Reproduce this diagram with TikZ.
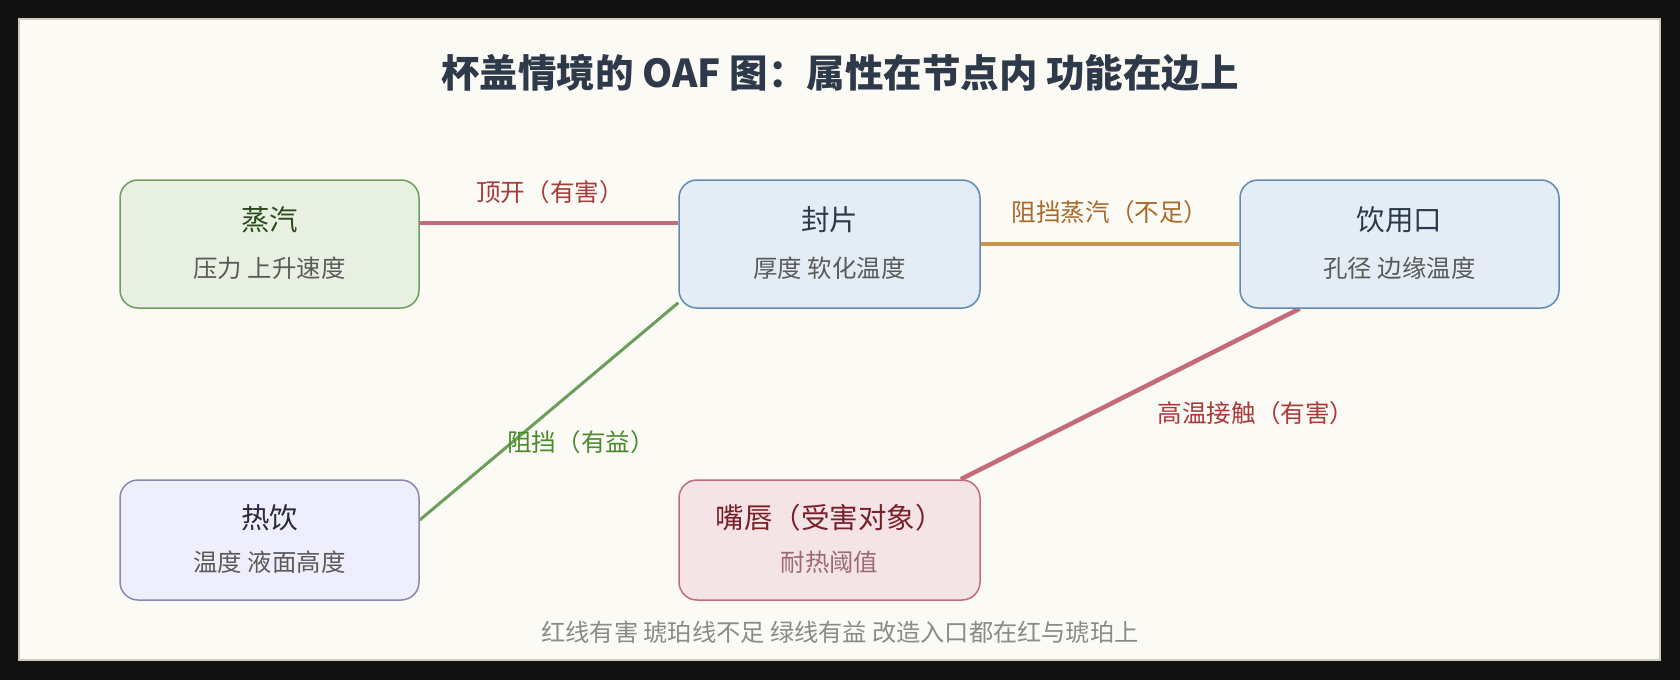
\documentclass[tikz,border=0pt]{standalone}
\usepackage{fontspec}
\setmainfont{Noto Sans CJK SC}
\usetikzlibrary{backgrounds}
\pgfdeclarelayer{edges}
\pgfsetlayers{background,edges,main}
\definecolor{framebg}{HTML}{111111}
\definecolor{panelbg}{HTML}{FBFAF5}
\definecolor{panelborder}{HTML}{CFCBBB}
\definecolor{titlec}{HTML}{2E3A4A}
\definecolor{gfill}{HTML}{E8F0E2}\definecolor{gdraw}{HTML}{6E9E5E}\definecolor{gtext}{HTML}{2E4A1E}
\definecolor{bfill}{HTML}{E4EDF5}\definecolor{bdraw}{HTML}{5F8AB3}\definecolor{btext}{HTML}{2A3A4C}
\definecolor{pfill}{HTML}{EFEEFC}\definecolor{pdraw}{HTML}{8A88B0}\definecolor{ptext}{HTML}{2A2840}
\definecolor{rfill}{HTML}{F5E4E6}\definecolor{rdraw}{HTML}{C46A78}\definecolor{rtext}{HTML}{7A1F2A}\definecolor{rsub}{HTML}{9A6A78}
\definecolor{subc}{HTML}{5A5A5A}
\definecolor{ered}{HTML}{C46A78}\definecolor{eamber}{HTML}{C8964A}\definecolor{egreen}{HTML}{6A9E5A}
\definecolor{lred}{HTML}{A83A3A}\definecolor{lamber}{HTML}{A86A28}\definecolor{lgreen}{HTML}{4A8A2A}
\definecolor{footc}{HTML}{8A8A8A}
\begin{document}
\begin{tikzpicture}[x=1pt,y=-1pt,
  box/.style={draw, rounded corners=18pt, line width=1.5pt, inner sep=0pt, minimum height=128pt, minimum width=299pt},
  ttl/.style={inner sep=0pt, font=\fontsize{28.5}{32}\selectfont},
  sub/.style={inner sep=0pt, text=subc, font=\fontsize{24.4}{28}\selectfont},
  lbl/.style={inner sep=0pt, font=\fontsize{24.6}{28}\selectfont},
  edge/.style={line cap=butt}
]
\useasboundingbox (0,0) rectangle (1680,680);
\begin{pgfonlayer}{background}
\fill[framebg] (0,0) rectangle (1680,680);
\draw[panelborder, fill=panelbg, line width=2pt] (19,19) rectangle (1660,660);
\end{pgfonlayer}

\node[inner sep=0pt, text=titlec, font=\fontsize{38.5}{44}\selectfont\bfseries] (title) at (840,73) {杯盖情境的 OAF 图：属性在节点内 功能在边上};

\node[box, fill=gfill, draw=gdraw] (steam) at (269.5,244) {};
\node[box, fill=bfill, draw=bdraw, minimum width=301pt] (seal) at (829.5,244) {};
\node[box, fill=bfill, draw=bdraw, minimum width=319pt] (mouth) at (1399.5,244) {};
\node[box, fill=pfill, draw=pdraw, minimum height=120pt] (drink) at (269.5,540) {};
\node[box, fill=rfill, draw=rdraw, minimum height=120pt, minimum width=301pt] (lip) at (829.5,540) {};

\node[ttl, text=gtext] (steamT) at ([yshift=24pt]steam.center) {蒸汽};
\node[sub] (steamS) at ([yshift=-24pt]steam.center) {压力 上升速度};
\node[ttl, text=btext] (sealT) at ([yshift=24pt]seal.center) {封片};
\node[sub] (sealS) at ([yshift=-24pt]seal.center) {厚度 软化温度};
\node[ttl, text=btext] (mouthT) at ([yshift=24pt]mouth.center) {饮用口};
\node[sub] (mouthS) at ([yshift=-24pt]mouth.center) {孔径 边缘温度};
\node[ttl, text=ptext] (drinkT) at ([yshift=22pt]drink.center) {热饮};
\node[sub] (drinkS) at ([yshift=-22pt]drink.center) {温度 液面高度};
\node[ttl, text=rtext] (lipT) at ([yshift=22pt]lip.center) {嘴唇（受害对象）};
\node[sub, text=rsub] (lipS) at ([yshift=-22pt]lip.center) {耐热阈值};

\begin{pgfonlayer}{edges}
\draw[edge, ered, line width=4.4pt] ([yshift=21pt]steam.east) -- ([yshift=21pt]seal.west)
  node[lbl, text=lred, pos=0.5, xshift=1pt, yshift=31pt] (l1) {顶开（有害）};
\draw[edge, eamber, line width=3.5pt] (seal.east) -- (mouth.west)
  node[lbl, text=lamber, pos=0.5, xshift=0pt, yshift=32pt] (l2) {阻挡蒸汽（不足）};
\draw[edge, egreen, line width=3pt] ([yshift=20pt]drink.east) -- ([yshift=6pt]seal.south west)
  node[lbl, text=lgreen, pos=0.5, xshift=32pt, yshift=-31pt] (l3) {阻挡（有益）};
\draw[edge, ered, line width=4.5pt] ([xshift=-100pt]mouth.south) -- ([xshift=-20pt]lip.north east)
  node[lbl, text=lred, pos=0.5, xshift=126pt, yshift=-19pt] (l4) {高温接触（有害）};
\end{pgfonlayer}

\node[inner sep=0pt, text=footc, font=\fontsize{24.2}{28}\selectfont] (foot) at (840,632) {红线有害 琥珀线不足 绿线有益 改造入口都在红与琥珀上};
\end{tikzpicture}
\end{document}
